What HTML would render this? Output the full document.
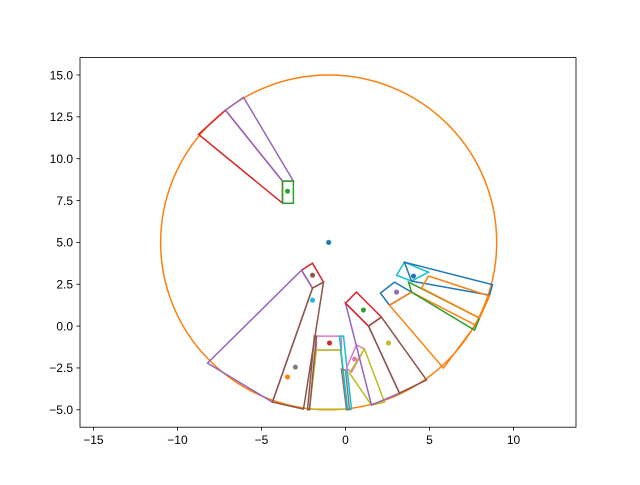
<!DOCTYPE html>
<html><head><meta charset="utf-8">
<style>
html,body{margin:0;padding:0;background:#fff;}
svg text{font-family:"Liberation Sans",sans-serif;font-size:12px;fill:#000;}
</style></head>
<body>
<svg id="chart" width="640" height="480" viewBox="0 0 640 480">
<rect x="0" y="0" width="640" height="480" fill="#fff"/>
<g id="marks"></g>
<g id="axes"></g>
</svg>
<script>
const xTicks = [-15, -10, -5, 0, 5, 10];
const xTickLabels = ["\u221215", "\u221210", "\u22125", "0", "5", "10"];
const yTicks = [-5, -2.5, 0, 2.5, 5, 7.5, 10, 12.5, 15];
const yTickLabels = ["\u22125.0", "\u22122.5", "0.0", "2.5", "5.0", "7.5", "10.0", "12.5", "15.0"];
const xLim = [-15.8, 13.72];
const yLim = [-6.04, 16.04];

const circleCenter = [-1, 5];
const circleRadius = 10;

const polyColors = ["#d62728","#9467bd","#2ca02c","#d62728","#9467bd","#8c564b","#e377c2","#bcbd22","#17becf","#8c564b","#7f7f7f","#e377c2","#bcbd22","#9467bd","#d62728","#8c564b","#1f77b4","#ff7f0e","#2ca02c","#17becf","#1f77b4","#ff7f0e"];
const polygons = [
 [[-3.75,8.66],[-3.75,7.34],[-8.75,11.46],[-7.14,12.9]],
 [[-3.75,8.66],[-3.1,8.66],[-6.07,13.67],[-7.14,12.9]],
 [[-3.75,8.66],[-3.1,8.66],[-3.1,7.34],[-3.75,7.34]],
 [[-2.62,3.34],[-1.96,3.76],[-1.31,2.63],[-1.96,2.27]],
 [[-2.62,3.34],[-1.96,2.27],[-4.35,-4.54],[-8.21,-2.21]],
 [[-1.96,2.27],[-1.31,2.63],[-2.5,-4.96],[-4.35,-4.54]],
 [[-1.73,-0.6],[-0.24,-0.6],[-0.24,-1.43],[-1.73,-1.43]],
 [[-1.73,-1.43],[-0.3,-1.43],[0.12,-4.96],[-2.14,-4.96]],
 [[-0.36,-0.6],[-0.12,-0.6],[0.36,-4.96],[0.12,-4.96]],
 [[-1.85,-0.6],[-1.73,-0.6],[-2.14,-5.0],[-2.26,-5.0]],
 [[-0.24,-2.57],[0,-2.63],[0.24,-5.0],[0.06,-5.0]],
 [[0.65,-1.13],[1.13,-1.37],[0.36,-2.75],[0.06,-2.51]],
 [[1.13,-1.37],[2.32,-4.54],[1.55,-4.72],[0.24,-2.81]],
 [[0,1.37],[1.37,0],[3.21,-4.0],[1.55,-4.72]],
 [[0,1.37],[0.65,2.03],[2.14,0.54],[1.37,0]],
 [[1.37,0],[2.14,0.54],[4.82,-3.22],[3.21,-4.0]],
 [[2.08,1.97],[2.92,2.63],[3.93,2.03],[2.62,1.25]],
 [[2.62,1.25],[3.93,2.03],[7.74,0.06],[5.83,-2.51]],
 [[3.75,2.63],[7.98,0.48],[7.68,-0.24],[3.93,2.03]],
 [[3.51,3.82],[4.94,3.22],[3.93,2.69],[3.04,3.04]],
 [[3.51,3.82],[8.75,2.48],[8.57,1.85],[3.93,2.69]],
 [[4.94,2.99],[8.57,1.79],[7.98,0.48],[4.52,2.27]]
];
const dotX = [-3.45,-1.0,-1.96,-1.96,-2.98,-3.45,-0.95,0.54,2.56,1.07,3.04,4.05];
const dotY = [8.06,5.0,3.04,1.55,-2.45,-3.04,-1.01,-1.97,-1.01,0.96,2.03,2.99];
const dotColors = ["#2ca02c","#1f77b4","#8c564b","#17becf","#7f7f7f","#ff7f0e","#d62728","#e377c2","#bcbd22","#2ca02c","#9467bd","#1f77b4"];

const L=80, R=576, T=57.6, B=427.2;
const sx = v => L + (v - xLim[0]) / (xLim[1]-xLim[0]) * (R-L);
const sy = v => B - (v - yLim[0]) / (yLim[1]-yLim[0]) * (B-T);
const NS = "http://www.w3.org/2000/svg";
const marks = document.getElementById('marks');
const axes = document.getElementById('axes');
function mk(tag, attrs, parent){const e=document.createElementNS(NS,tag);for(const k in attrs)e.setAttribute(k,attrs[k]);parent.appendChild(e);return e;}

// circle
const circ = mk('ellipse',{cx:sx(circleCenter[0]),cy:sy(circleCenter[1]),rx:Math.abs(sx(circleRadius)-sx(0)),ry:Math.abs(sy(circleRadius)-sy(0)),fill:'none',stroke:'#ff7f0e','stroke-width':1.5},marks);



polygons.forEach((p,i)=>{
  const pts = p.map(v=>sx(v[0]).toFixed(1)+','+sy(v[1]).toFixed(1)).join(' ');
  const el = mk('polygon',{points:pts,fill:'none',stroke:polyColors[i],'stroke-width':1.5,'stroke-linejoin':'miter'},marks);
  
  
});
dotX.forEach((x,i)=>{
  const el = mk('circle',{cx:sx(x),cy:sy(dotY[i]),r:2.2,fill:dotColors[i],stroke:dotColors[i],'stroke-width':0.8,'stroke-opacity':0.8},marks);
  
  
});

// frame
const fr = mk('rect',{x:L,y:T,width:R-L,height:B-T,fill:'none',stroke:'#000','stroke-width':0.8},axes);


xTicks.forEach((t,i)=>{
  const x=sx(t);
  const tk=mk('line',{x1:x,x2:x,y1:B,y2:B+3.5,stroke:'#000','stroke-width':0.8},axes);
  
  
  const tx=mk('text',{x:x,y:B+17,'text-anchor':'middle'},axes);
  tx.textContent=xTickLabels[i];
  
  
});
yTicks.forEach((t,i)=>{
  const y=sy(t);
  const tk=mk('line',{x1:L-3.5,x2:L,y1:y,y2:y,stroke:'#000','stroke-width':0.8},axes);
  
  
  const tx=mk('text',{x:L-7,y:y+4.3,'text-anchor':'end'},axes);
  tx.textContent=yTickLabels[i];
  
  
});
</script>
</body></html>
